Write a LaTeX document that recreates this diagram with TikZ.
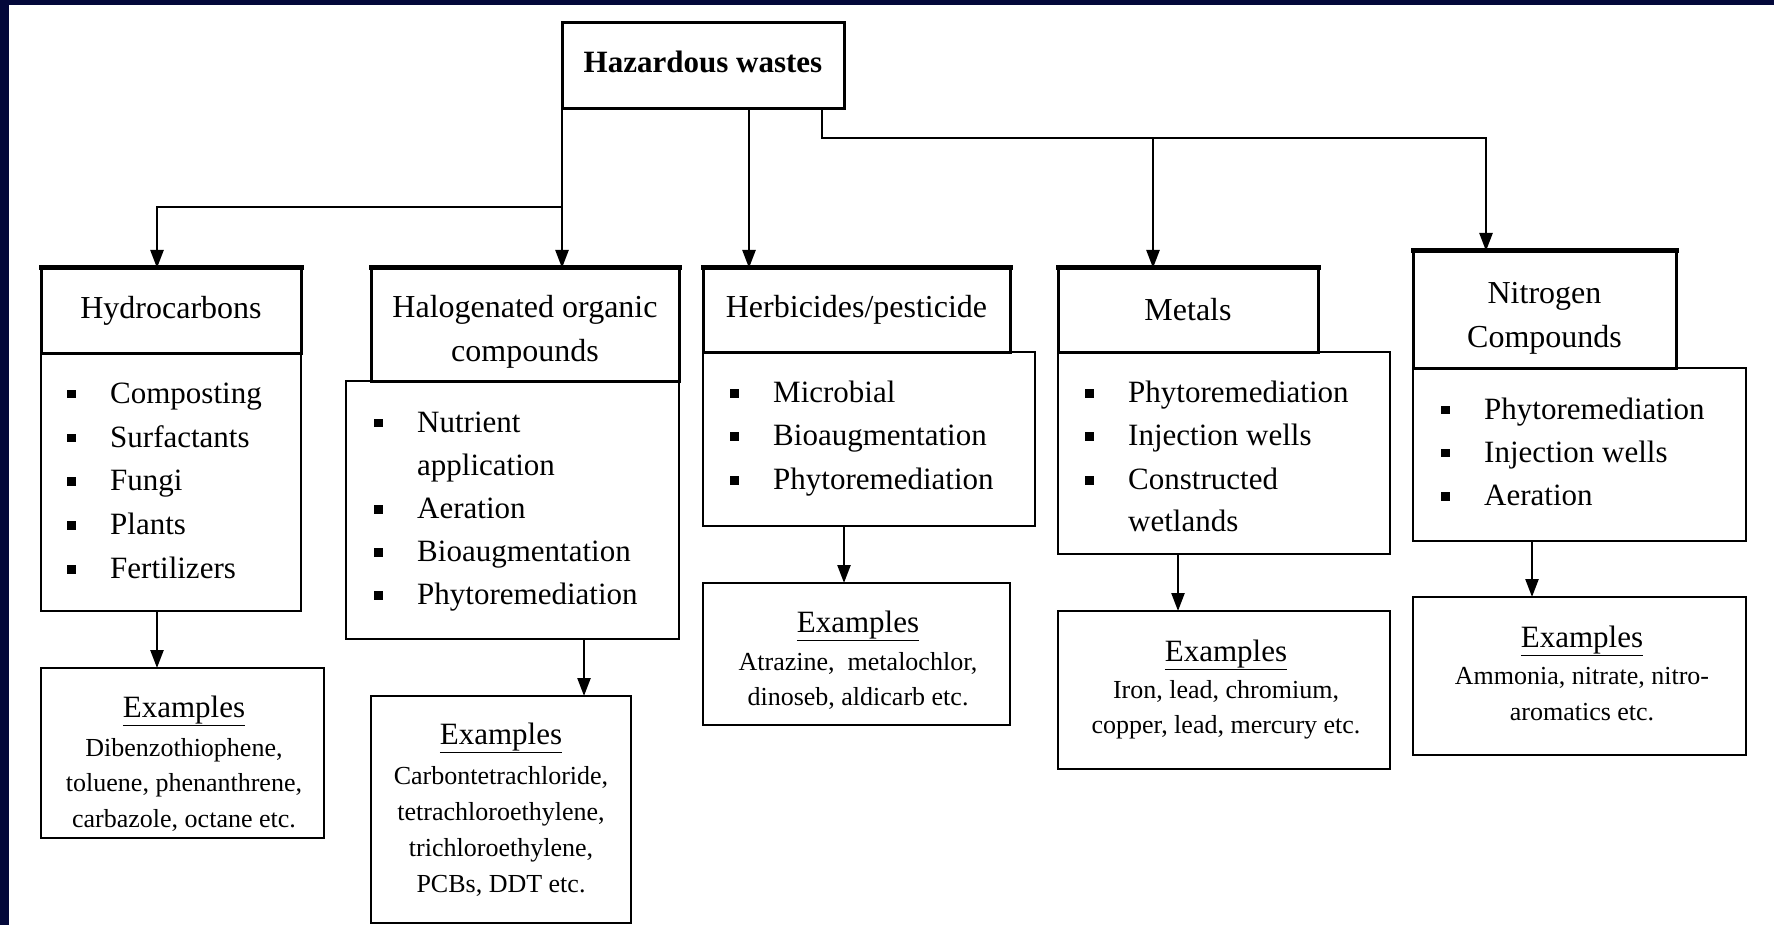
\documentclass[tikz,border=0pt]{standalone}
\usepackage{fontspec}
\setmainfont{Liberation Serif}
\usetikzlibrary{arrows.meta}
\definecolor{navy}{HTML}{03083A}
\definecolor{midblue}{HTML}{003399}
\newcommand\hf{\fontsize{32}{44}\selectfont}
\newcommand\lf{\fontsize{31}{44}\selectfont}
\newcommand\ef{\fontsize{26}{35}\selectfont}
\newcommand\bul{\makebox[43pt][l]{\raisebox{5pt}{\rule{8.5pt}{8.5pt}}}}
\begin{document}
\begin{tikzpicture}[x=1pt,y=-1pt,
 box/.style={draw, line width=2.2pt, anchor=north west, inner sep=0pt, outer sep=0pt},
 hdr/.style={box, line width=3pt, align=center, font=\hf},
 itm/.style={anchor=west, inner sep=0pt, text height=21pt, text depth=6pt, font=\lf},
 ex/.style={anchor=center, inner sep=0pt, text height=17pt, text depth=5pt, font=\ef},
 exh/.style={anchor=center, inner sep=0pt, text height=21pt, text depth=6pt, font=\lf},
 arr/.style={line width=2.4pt, -{Triangle[length=18pt,width=13pt]}},
 topedge/.style={line width=5pt, line cap=rect}
]
\useasboundingbox (0,0) rectangle (1774,925);
\fill[white] (0,0) rectangle (1774,925);
\shade[left color=navy, middle color=midblue, right color=navy] (0,0) rectangle (1774,5);
\fill[navy] (0,0) rectangle (9,925);

% root
\node[hdr, font=\fontsize{31}{38}\selectfont\bfseries, text height=21pt, text depth=7pt, minimum width=282pt, minimum height=86pt] (haz) at (562,23) {Hazardous wastes};

% headers
\node[hdr, minimum width=260pt, minimum height=85pt] (hyd) at (41,268) {Hydrocarbons};
\node[hdr, minimum width=308pt, minimum height=113pt] (hal) at (371,268) {\rule{0pt}{36pt}Halogenated organic\\compounds};
\node[hdr, minimum width=307pt, minimum height=84pt] (her) at (703,268) {Herbicides/pesticide};
\node[hdr, minimum width=260pt, minimum height=84pt] (met) at (1058,268) {Metals};
\node[hdr, minimum width=263pt, minimum height=117pt] (nit) at (1413,251) {\rule{0pt}{39pt}Nitrogen\\Compounds};
\foreach \n in {hyd,hal,her,met,nit} \draw[topedge] (\n.north west) -- (\n.north east);

% list boxes
\node[box, minimum width=260pt, minimum height=258pt] (hydl) at (41,353) {};
\node[box, minimum width=333pt, minimum height=258pt] (hall) at (346,381) {};
\node[box, minimum width=332pt, minimum height=174pt] (herl) at (703,352) {};
\node[box, minimum width=332pt, minimum height=202pt] (metl) at (1058,352) {};
\node[box, minimum width=333pt, minimum height=173pt] (nitl) at (1413,368) {};

% example boxes
\node[box, minimum width=283pt, minimum height=170pt] (hyde) at (41,668) {};
\node[box, minimum width=260pt, minimum height=227pt] (hale) at (371,696) {};
\node[box, minimum width=307pt, minimum height=142pt] (here) at (703,583) {};
\node[box, minimum width=332pt, minimum height=158pt] (mete) at (1058,611) {};
\node[box, minimum width=333pt, minimum height=158pt] (nite) at (1413,597) {};

% list items
\node[itm] (hyd1) at (67,395.5) {\bul Composting};
\node[itm] (hyd2) at (67,439.5) {\bul Surfactants};
\node[itm] (hyd3) at (67,483) {\bul Fungi};
\node[itm] (hyd4) at (67,527) {\bul Plants};
\node[itm] (hyd5) at (67,571) {\bul Fertilizers};

\node[itm] (hal1) at (374,424.5) {\bul Nutrient};
\node[itm] (hal1b) at (417,468) {application};
\node[itm] (hal2) at (374,511) {\bul Aeration};
\node[itm] (hal3) at (374,554) {\bul Bioaugmentation};
\node[itm] (hal4) at (374,597) {\bul Phytoremediation};

\node[itm] (her1) at (730,395) {\bul Microbial};
\node[itm] (her2) at (730,438) {\bul Bioaugmentation};
\node[itm] (her3) at (730,482) {\bul Phytoremediation};

\node[itm] (met1) at (1085,395) {\bul Phytoremediation};
\node[itm] (met2) at (1085,438) {\bul Injection wells};
\node[itm] (met3) at (1085,482) {\bul Constructed};
\node[itm] (met3b) at (1128,524) {wetlands};

\node[itm] (nit1) at (1441,411.5) {\bul Phytoremediation};
\node[itm] (nit2) at (1441,454.5) {\bul Injection wells};
\node[itm] (nit3) at (1441,498) {\bul Aeration};

% examples text
\node[exh] (hydx) at (184,710) {\underline{Examples}};
\node[ex] (hydx1) at (184,750) {Dibenzothiophene,};
\node[ex] (hydx2) at (184,785) {toluene, phenanthrene,};
\node[ex] (hydx3) at (184,821) {carbazole, octane etc.};

\node[exh] (halx) at (501,737) {\underline{Examples}};
\node[ex] (halx1) at (501,778) {Carbontetrachloride,};
\node[ex] (halx2) at (501,814) {tetrachloroethylene,};
\node[ex] (halx3) at (501,850) {trichloroethylene,};
\node[ex] (halx4) at (501,886) {PCBs, DDT etc.};

\node[exh] (herx) at (858,625) {\underline{Examples}};
\node[ex] (herx1) at (858,664) {Atrazine,~ metalochlor,};
\node[ex] (herx2) at (858,699) {dinoseb, aldicarb etc.};

\node[exh] (metx) at (1226,654) {\underline{Examples}};
\node[ex] (metx1) at (1226,692) {Iron, lead, chromium,};
\node[ex] (metx2) at (1226,727) {copper, lead, mercury etc.};

\node[exh] (nitx) at (1582,639.5) {\underline{Examples}};
\node[ex] (nitx1) at (1582,678.5) {Ammonia, nitrate, nitro-};
\node[ex] (nitx2) at (1582,714.5) {aromatics etc.};

% top-level connectors
\coordinate (jl) at (562,207);
\coordinate (jr) at (1486,138);
\coordinate (jm) at (1153,138);
\draw[arr] (haz.south west) -- (haz.south west |- hal.north);
\draw[arr] (jl) -| ([xshift=-14pt]hyd.north);
\draw[arr] ([xshift=46pt]haz.south) -- ([xshift=46pt]haz.south |- her.north);
\draw[arr] ([xshift=-22pt]haz.south east) |- (jr) -- (jr |- nit.north);
\draw[arr] (jm) -- (jm |- met.north);

% lower connectors
\draw[arr] ([xshift=-14pt]hydl.south) -- ([xshift=-14pt]hydl.south |- hyde.north);
\draw[arr] ([xshift=71.5pt]hall.south) -- ([xshift=71.5pt]hall.south |- hale.north);
\draw[arr] ([xshift=-25pt]herl.south) -- ([xshift=-25pt]herl.south |- here.north);
\draw[arr] ([xshift=-46pt]metl.south) -- ([xshift=-46pt]metl.south |- mete.north);
\draw[arr] ([xshift=-47.5pt]nitl.south) -- ([xshift=-47.5pt]nitl.south |- nite.north);
\end{tikzpicture}
\end{document}
